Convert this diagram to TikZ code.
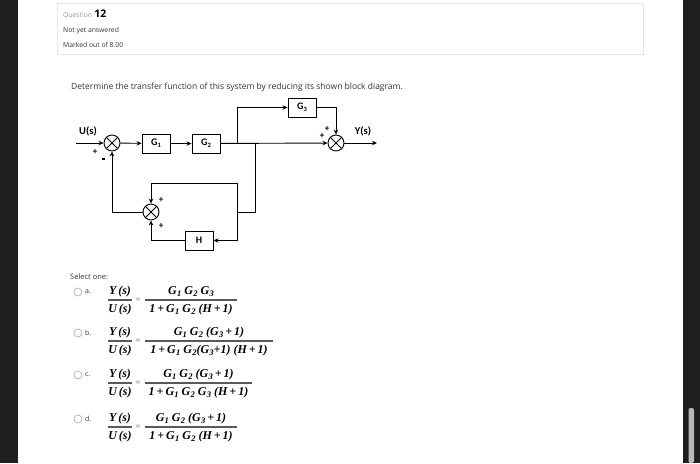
\documentclass[tikz,border=0pt]{standalone}
\usepackage{fontspec}
\setmainfont{Open Sans}
\newfontfamily\diagff{Carlito}
\newfontfamily\mathff{Liberation Serif}
\usetikzlibrary{arrows.meta}
\definecolor{darkbg}{HTML}{1E1E1E}
\definecolor{boxline}{HTML}{E6E6E6}
\definecolor{txtgray}{HTML}{333333}
\newcommand\Gs[1]{G\kern0.3pt\raisebox{-0.35ex}{\fontsize{8.5}{8.5}\selectfont #1}}
\newcommand\Gd[1]{G\kern0.2pt\raisebox{-0.4ex}{\fontsize{6.5}{6.5}\selectfont #1}}
\newcommand\optionrow[5]{%
  \node[radio] (r#1) at (78,#2-8) {};
  \node[optlab] (l#1) at (85,#2-8) {#1.};
  \node[fm] (yn#1) at (120,#2-8) {Y\,(s)};
  \node[fm] (ud#1) at (120,#2+10) {U\,(s)};
  \node[eqsign] (eq#1) at (138,#2) {=};
  \node[fm] (n#1) at ({(145+#5)/2},#2-8) {#3};
  \node[fm] (d#1) at ({(145+#5)/2},#2+10) {#4};
  \draw[fline] (108,#2) -- (132,#2);
  \draw[fline] (145,#2) -- (#5,#2);
}
\begin{document}
\begin{tikzpicture}[x=1pt,y=-1pt,
  blk/.style={draw, line width=0.9pt, minimum width=28pt, minimum height=19pt, inner sep=0pt, font=\diagff\bfseries\fontsize{10}{10}\selectfont},
  sumj/.style={circle, draw, line width=0.9pt, minimum size=16pt, inner sep=0pt},
  arr/.style={line width=0.9pt, -{Stealth[length=5pt,width=4.5pt]}},
  wire/.style={line width=0.9pt},
  sign/.style={font=\diagff\bfseries\fontsize{9}{9}\selectfont, inner sep=0pt},
  dlab/.style={font=\diagff\bfseries\fontsize{10.5}{10.5}\selectfont, inner sep=0pt},
  radio/.style={circle, draw=gray!70, line width=0.6pt, minimum size=8pt, inner sep=0pt},
  optlab/.style={anchor=west, inner sep=0pt, font=\fontsize{7}{7}\selectfont, text=txtgray},
  fm/.style={inner sep=0pt, font=\mathff\bfseries\itshape\fontsize{12}{12}\selectfont},
  eqsign/.style={inner sep=0pt, text=gray, font=\mathff\bfseries\fontsize{9}{9}\selectfont},
  fline/.style={line width=1.2pt, gray!70!black},
  qtext/.style={anchor=base west, inner sep=0pt, text=txtgray, font=\fontsize{6.8}{6.8}\selectfont}
]
\useasboundingbox (0,0) rectangle (700,463);
% background
\fill[darkbg] (0,0) rectangle (700,463);
\fill[white] (18,0) rectangle (683,463);
\fill[gray!55, rounded corners=2pt] (688.5,408) rectangle (694,463);
% question info box
\draw[boxline, line width=1pt] (57.5,3) rectangle (643,54);
\node[qtext, text=gray!80] (qword) at (63,17) {Question};
\node[anchor=base west, inner sep=0pt, font=\bfseries\fontsize{10.5}{10.5}\selectfont] (qnum) at (qword.base east) {\,12};
\node[qtext] (qstate) at (63,32) {Not yet answered};
\node[qtext] (qmark) at (63,47) {Marked out of 8.00};
% prompt
\node[anchor=base west, inner sep=0pt, text=txtgray, font=\fontsize{8.5}{8.5}\selectfont] (prompt) at (71,89) {Determine the transfer function of this system by reducing its shown block diagram.};
% block diagram
\node[sumj] (s1) at (112,143) {};
\node[blk] (g1) at (156,143.5) {\Gd{1}};
\node[blk] (g2) at (206,143.5) {\Gd{2}};
\node[blk] (g3) at (302,107.5) {\Gd{3}};
\node[sumj] (s2) at (336,143) {};
\node[sumj] (s3) at (151,212) {};
\node[blk] (h) at (199,240.5) {H};
\foreach \s in {s1,s2,s3}{
  \draw[wire] (\s.45) -- (\s.225);
  \draw[wire] (\s.135) -- (\s.315);
}
\coordinate (uin) at (76,143);
\coordinate (yout) at (377,143);
\coordinate (b1) at (237,143);
\coordinate (b2) at (255,143);
\coordinate (c1) at (237,212);
\coordinate (c2) at (237,183);
\node[dlab] (ulab) at (88,131) {U(s)};
\node[dlab] (ylab) at (363,131) {Y(s)};
\draw[arr] (uin) -- (s1);
\draw[arr] (s1) -- (g1);
\draw[arr] (g1) -- (g2);
\draw[arr] (g2) -- (s2);
\draw[arr] (b1) |- (g3);
\draw[arr] (g3) -| (s2);
\draw[arr] (s2) -- (yout);
\draw[wire] (b2) |- (c1);
\draw[arr] (c1) -- (c2) -| (s3);
\draw[arr] (c1) |- (h);
\draw[arr] (h) -| (s3);
\draw[arr] (s3) -| (s1);
\node[sign] (p1) at (95,152) {+};
\node[sign] (m1) at (103.5,159) {\rule{3.5pt}{1.2pt}};
\node[sign] (p2) at (322,136) {+};
\node[sign] (p3) at (327,129) {+};
\node[sign] (p4) at (161,200) {+};
\node[sign] (p5) at (161,226) {+};
% options
\node[anchor=base west, inner sep=0pt, text=txtgray, font=\fontsize{7.5}{7.5}\selectfont] (sel) at (70,279) {Select one:};
\optionrow{a}{300}{\Gs{1} \Gs{2} \Gs{3}}{1\,+\,\Gs{1} \Gs{2} (H\,+\,1)}{237}
\optionrow{b}{341}{\Gs{1} \Gs{2} (\Gs{3}\,+\,1)}{1\,+\,\Gs{1} \Gs{2}(\Gs{3}+1) (H\,+\,1)}{273}
\optionrow{c}{383}{\Gs{1} \Gs{2} (\Gs{3}\,+\,1)}{1\,+\,\Gs{1} \Gs{2} \Gs{3} (H\,+\,1)}{252}
\optionrow{d}{427}{\Gs{1} \Gs{2} (\Gs{3}\,+\,1)}{1\,+\,\Gs{1} \Gs{2} (H\,+\,1)}{237}
\end{tikzpicture}
\end{document}
